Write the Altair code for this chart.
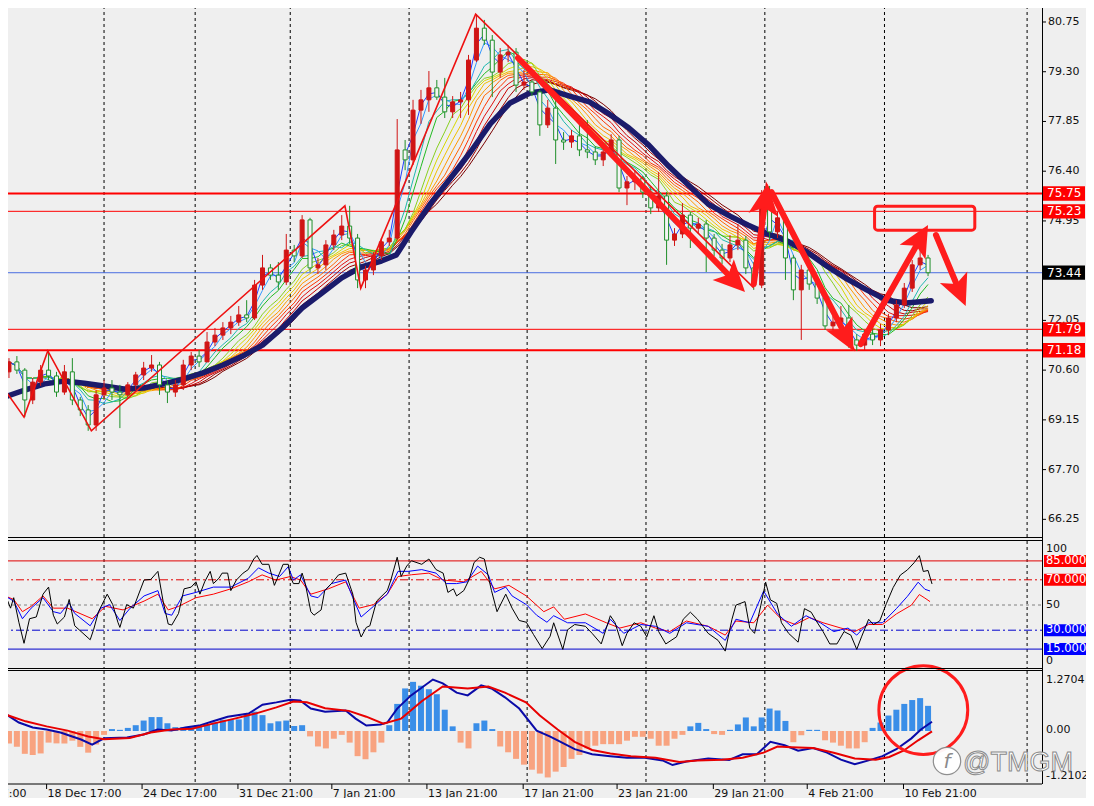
import math
import altair as alt
import pandas as pd

FONT = "DejaVu Sans"

# ---------------- values ----------------
# candles (one slot = 8 hours)
OPEN = [70.55,70.84,70.60,69.73,70.25,70.60,70.43,69.96,70.55,69.73,
        69.44,69.00,69.88,70.08,69.96,69.88,70.17,70.46,70.66,70.75,
        70.17,69.96,70.17,70.75,71.01,70.84,71.42,71.62,71.83,72.00,
        72.21,72.12,73.08,73.58,73.37,73.17,74.10,73.93,74.98,73.58,
        73.67,74.25,74.54,74.80,74.45,73.23,73.52,73.93,74.34,74.45,
        77.02,76.73,78.18,78.48,78.83,78.56,78.13,78.42,78.48,79.64,
        80.57,80.22,79.29,79.79,79.87,78.91,79.00,78.71,77.75,78.24,
        77.31,77.25,77.43,77.02,76.96,76.73,76.96,77.31,75.91,76.09,
        76.20,75.79,75.33,75.68,74.39,74.57,75.12,74.74,74.86,74.45,
        74.10,73.87,74.25,74.39,73.58,73.08,75.41,74.63,75.04,73.87,
        72.94,73.52,73.11,72.70,71.89,72.00,72.12,71.48,71.33,71.65,
        71.48,71.77,72.12,72.50,72.99,73.67,73.87]
HIGH = [70.95,71.01,70.66,70.37,70.75,71.16,70.55,70.75,70.95,69.82,
        69.58,70.02,70.31,70.31,70.17,70.25,70.55,70.84,71.04,70.84,
        70.31,70.31,70.90,71.13,71.19,71.71,71.83,72.00,72.18,72.47,
        72.64,73.23,73.96,73.69,73.75,74.57,74.25,75.12,75.04,73.87,
        74.39,74.69,75.12,75.39,74.57,73.64,74.04,74.45,74.69,77.92,
        77.31,78.48,78.77,79.32,79.06,79.12,78.59,78.71,79.79,80.98,
        80.81,80.37,79.99,80.08,79.99,79.35,79.06,78.77,78.48,78.53,
        77.54,77.60,77.95,77.89,77.13,77.08,77.48,77.43,76.26,76.43,
        76.26,75.97,76.38,75.79,74.74,75.47,75.21,75.04,74.98,74.57,
        74.28,74.54,74.86,74.51,73.75,75.85,75.97,75.21,75.15,73.96,
        73.67,73.75,73.29,72.82,72.18,72.47,72.50,71.65,71.77,71.95,
        71.95,72.24,72.64,73.14,73.81,74.16,73.96]
LOW = [70.37,70.49,69.23,69.61,70.14,70.31,69.82,69.88,69.58,69.26,
       68.83,68.83,69.73,69.73,68.91,69.79,70.02,70.31,70.55,69.88,
       69.64,69.82,70.02,70.60,70.69,70.84,71.30,71.48,71.65,71.89,
       72.00,72.06,72.94,73.23,72.94,73.08,73.75,73.87,73.46,73.40,
       73.52,74.10,74.39,74.28,72.99,72.99,73.37,73.81,74.22,74.39,
       76.43,76.58,77.78,78.13,78.48,77.95,77.95,77.95,78.04,79.58,
       80.08,78.56,79.12,79.58,78.71,78.77,78.59,77.43,77.66,76.61,
       77.02,77.08,76.84,76.78,76.58,76.55,76.84,75.79,75.41,75.85,
       75.62,75.15,75.21,73.67,74.22,74.45,74.16,74.57,73.46,73.93,
       73.69,73.75,74.10,73.40,72.94,72.99,74.39,74.45,73.23,72.64,
       71.48,72.94,72.53,71.77,71.71,71.77,71.25,71.16,71.19,71.33,
       71.30,71.62,72.00,72.41,72.88,73.52,73.34]
CLOSE = [70.84,70.60,69.73,70.25,70.60,70.43,69.96,70.55,69.73,69.44,
         69.00,69.88,70.08,69.96,69.88,70.17,70.46,70.66,70.75,70.17,
         69.96,70.17,70.75,71.01,70.84,71.42,71.62,71.83,72.00,72.21,
         72.12,73.08,73.58,73.37,73.17,74.10,73.93,74.98,73.58,73.67,
         74.25,74.54,74.80,74.45,73.23,73.52,73.93,74.34,74.45,77.02,
         76.73,78.18,78.48,78.83,78.56,78.13,78.42,78.48,79.64,80.57,
         80.22,79.29,79.79,79.87,78.91,79.00,78.71,77.75,78.24,77.31,
         77.25,77.43,77.02,76.96,76.73,76.96,77.31,75.91,76.09,76.20,
         75.79,75.33,75.68,74.39,74.57,75.12,74.74,74.86,74.45,74.10,
         73.87,74.25,74.39,73.58,73.08,75.41,74.63,75.04,73.87,72.94,
         73.52,73.11,72.70,71.89,72.00,72.12,71.48,71.33,71.65,71.48,
         71.77,72.12,72.50,72.99,73.67,73.87,73.44]
BAR = list(range(len(CLOSE)))

# thick slow moving average (navy)
NAVY_B = [-0.5,2,4.5,7,9.5,12,14.5,17,19.5,22,24.5,27,29.5,32,34.5,37,39.5,42,44.5,47,
          48.9,50.75,53.25,55.75,58.25,60.75,63.25,65.75,68.25,70.75,73.25,75.75,78.25,
          80.75,83.25,85.75,88.25,90.75,93.25,95.75,98.25,100.75,103.25,105.75,108.25,
          110.75,113.25,116.4]
NAVY_P = [69.82,70.02,70.20,70.28,70.22,70.14,70.05,70.08,70.20,70.34,70.52,70.75,71.01,
          71.33,71.83,72.41,72.85,73.29,73.61,73.78,73.96,74.63,75.47,76.20,76.96,77.78,
          78.39,78.68,78.77,78.59,78.42,78.07,77.66,77.16,76.55,76.00,75.44,75.12,74.83,
          74.57,74.36,74.04,73.63,73.26,72.94,72.64,72.56,72.62]

# rainbow MA periods (in slots), slow -> fast
MA_WIN = [17,16,15,14,13,12,11,10,9,8,6,5,3,2]
MA_COL = ["#7a0000","#a00000","#c80000","#e01010","#ff3300","#ff6600","#ff9900",
          "#f0c000","#d8d800","#88d020","#22bb22","#20b8b0","#3399ff","#2040ff"]

# zigzag (thin red)
ZZ_B = [-0.5,1.9,4.9,10.4,42.4,44.4,58.9,93.9,95.6,106.75]
ZZ_P = [70.02,69.23,71.16,68.83,75.39,72.99,80.98,73.02,76.03,71.16]

# hand-drawn arrows: start -> tip
ARROW_B0 = [64.25,94.0,96.25,107.5,117.0]
ARROW_P0 = [79.70,73.11,75.79,71.36,74.54]
ARROW_B1 = [92.9,95.75,106.6,116.0,120.75]
ARROW_P1 = [72.88,76.03,71.16,74.83,72.47]

# target box
BOX_B = [109.25,121.9]
BOX_P = [75.38,74.68]

# horizontal levels
LEVELS_THICK = [75.75,71.18]
LEVELS_THIN = [75.23,71.79]
LAST_PRICE = [73.44]
LEVEL_LABELS = [75.75,75.23,71.79,71.18]
PRICE_TICKS = [80.75,79.30,77.85,76.40,74.95,73.50,72.05,70.60,69.15,67.70,66.25]

# time axis
GRID_B = [12,23.5,35.5,50.5,65.4,80.4,95.4,110.5,128.5]
XLAB_B = [-7.25,4.75,16.8,28.9,40.75,52.75,64.9,76.75,88.9,100.75,112.9]
XLAB_T = ["12 Dec 17:00","18 Dec 17:00","24 Dec 17:00","31 Dec 21:00","7 Jan 21:00",
          "13 Jan 21:00","17 Jan 21:00","23 Jan 21:00","29 Jan 21:00","4 Feb 21:00",
          "10 Feb 21:00"]

# oscillator panel (three lines)
OB_B = [-0.5,0.2,0.6,1.25,1.9,2.6,3.45,4.3,5.0,5.6,6.1,7.0,7.6,8.3,10.25,10.7,11.3,12.4,13.1,13.75,
        14.0,14.85,15.7,17.05,17.9,18.8,19.45,20.1,20.55,21.4,22.1,23.0,23.6,24.1,24.7,25.4,25.8,26.5,26.9,27.6,
        28.0,28.7,29.55,30.2,30.9,31.3,31.95,32.8,33.5,34.15,34.6,35.25,35.5,35.9,36.6,37.0,37.4,38.1,38.5,39.4,
        39.85,40.7,41.6,42.5,43.4,43.8,44.45,45.1,45.55,46.4,47.75,48.2,49.0,49.5,50.2,50.8,52.1,53.0,53.9,54.8,
        55.4,56.1,56.5,57.4,58.05,58.7,59.4,60.0,60.9,61.6,62.7,63.5,64.4,65.3,66.2,67.3,68.3,68.75,69.9,70.5,
        71.4,72.75,73.6,74.75,75.9,76.5,77.4,78.0,78.9,79.75,80.5,81.4,82.0,82.9,84.25,85.1,86.0,86.9,88.25,89.5,
        90.4,91.25,91.75,92.9,93.5,94.1,94.9,95.5,96.1,96.9,97.5,98.4,99.6,100.4,101.25,101.9,102.75,103.6,104.5,105.4,
        106.25,107.0,107.6,108.5,109.1,109.9,110.75,111.6,112.5,113.4,114.25,114.9,115.4,116.0,116.5]
OB_V = [58.6,47.5,55.8,36.3,19.6,39.1,40.5,58.6,64.2,41.9,34.9,40.5,54.4,33.5,22.4,30.8,44.7,58.6,50.3,36.3,
        32.2,50.3,47.5,69.8,70.3,76.7,53.1,34.9,34.1,43.3,62.8,64.2,68.4,58.6,68.4,76.7,67,71.2,75.3,75.3,
        61.4,69.8,75.3,78.1,86.5,89.3,82.3,82.3,65.6,75.3,82.3,82.3,72.6,67,67,75.3,67,44.7,41.9,46.1,
        61.4,67,73.9,75.3,58.6,36.3,24.6,32.2,33.5,53.1,61.4,69.8,87.9,72.6,80.9,85.1,82.3,86.5,78.1,75.3,
        60,62.8,57.2,61.4,69.8,83.7,87.9,86.5,61.4,44.7,58.6,47.5,37.7,36.3,26.6,15.4,25.2,35.9,14.8,30.3,
        34.5,33.1,27.5,19.1,41.5,35.9,17.7,27.5,35.9,33.1,24.7,41.5,28.9,19.1,24.7,38.7,44.3,38.7,27.5,21.9,
        13.4,38.7,49.9,52.7,31.7,27.5,49.9,68.1,54.1,51.3,35.9,27.5,20.5,47.1,44.3,37.3,28.9,19.1,19.1,28.9,
        26.1,14.8,24.7,38.7,34.5,37.3,51.3,63.9,73.7,77.9,83.6,89.2,76.6,77.4,66.7]
OU_B = [-0.5,0.6,1.7,2.8,4.3,5.6,6.5,7.6,8.3,10.25,11.6,12.7,14.0,15.3,17.05,18.8,19.7,20.55,21.9,23.6,
        25.8,28.0,30.2,31.5,32.8,34.15,35.25,35.9,36.8,38.1,39.0,40.7,42.5,43.4,44.45,46.0,47.75,49.1,50.4,52.1,
        53.9,55.2,56.5,57.8,59.15,60.5,61.3,62.7,63.5,65.3,66.6,67.9,68.75,70.5,72.75,75.0,75.9,77.6,79.75,81.6,
        83.4,85.5,88.25,90.4,91.75,93.5,95.25,97.0,98.75,100.6,102.4,104.1,105.9,107.0,108.5,110.25,112.0,113.4,
        114.75,115.6,116.25]
OU_V = [57.2,53.1,39.1,47.5,55.8,44.7,43.3,51.7,43.3,33.5,47.5,50.3,37.7,47.5,57.2,61.4,43.3,41.9,57.2,60,
        64.2,64.2,71.2,79.5,75.3,72.6,80.4,69.8,73.9,57.2,55.8,67,69.8,55.8,40.5,48.9,58.6,76.7,76.7,78.1,
        75.3,67,67,68.4,80.9,73.9,60,64.2,57.2,50.3,41.9,36.3,41.5,35.9,35.9,27.5,38.7,27.5,34.5,33.1,
        27.5,35.9,33.1,21.9,38.7,35.9,61.1,42.9,33.1,41.5,35.9,28.9,31.7,26.1,35.9,35.9,47.1,56.9,68.1,62.5,
        61.1]
OR_B = [-0.5,0.6,1.7,2.8,4.3,5.6,7.4,10.5,12.2,14.4,17.05,18.8,20.1,21.4,23.6,25.8,28.0,30.2,31.95,33.7,
        35.5,36.8,38.1,40.3,42.5,44.2,46.0,47.75,49.1,50.8,53.0,54.8,57.4,59.6,61.3,63.1,65.3,67.5,68.75,70.1,
        72.75,75.4,77.1,79.75,81.6,83.4,85.5,88.25,90.4,91.75,94.0,95.75,97.5,99.25,101.0,102.75,105.0,106.75,
        108.5,110.25,112.0,113.9,114.9,115.6,116.25]
OR_V = [57.2,54.4,44.7,48.9,57.2,47.5,47.5,39.1,48.9,46.1,53.1,58.6,46.1,48.9,55.8,58.6,62.8,68.4,73.9,69.8,
        72.6,69.8,58.6,62.8,68.4,47.5,50.3,58.6,72.6,74,75.3,69.8,68.4,76.7,62.8,65.6,57.2,44.7,48.5,38.7,
        42.9,35.9,31.7,35.9,31.7,28.9,37.3,33.1,26.1,37.3,35.9,49.9,38.7,34.5,40.1,35.9,31.7,28.9,34.5,34.5,
        42.9,49.9,58.3,55.5,52.7]

# MACD panel
HIST = [-0.32,-0.41,-0.59,-0.62,-0.58,-0.30,-0.32,-0.32,-0.25,-0.41,
        -0.56,-0.35,-0.10,0.05,0.03,0.08,0.15,0.27,0.36,0.36,
        0.20,0.10,0.10,0.13,0.15,0.18,0.22,0.29,0.29,0.30,
        0.45,0.50,0.41,0.20,0.25,0.27,0.13,0.15,-0.14,-0.40,
        -0.45,-0.20,-0.10,-0.30,-0.65,-0.73,-0.55,-0.30,0.15,0.70,
        1.10,1.27,1.17,1.08,0.95,0.55,0.12,-0.30,-0.45,0.20,
        0.27,0.05,-0.40,-0.55,-0.72,-0.87,-1.00,-1.10,-1.20,-1.05,
        -0.93,-0.72,-0.62,-0.45,-0.38,-0.34,-0.34,-0.34,-0.25,-0.15,
        -0.15,-0.20,-0.38,-0.38,-0.20,-0.10,0.12,0.21,0.05,-0.08,
        -0.10,0.03,0.17,0.35,0.12,0.35,0.58,0.53,0.26,-0.29,
        -0.11,0.03,0.03,-0.24,-0.30,-0.38,-0.45,-0.45,-0.29,0.08,
        0.22,0.40,0.55,0.70,0.80,0.85,0.65]
MB_B = [-0.5,1.25,3,4.75,6.5,9.1,10.5,12,14.9,17,18.75,20.5,22.25,24,25.75,27.6,30.25,32,33.75,35.5,
        36.75,38.1,39.9,42.5,43.75,45.1,46.9,47.75,49,50.75,53.5,54.75,56.5,57.9,59.6,60.9,62.6,64.4,66.6,68.25,
        69.25,71.4,73.6,75.9,78,80.25,82.5,83.75,85.5,88.25,90.9,92.6,94.4,96.1,97.9,99.6,101.5,103.25,105,106.75,
        108.5,110.25,112,113.9,115.1,116.5]
MB_V = [0.45,0.22,0.09,0.04,-0.04,-0.22,-0.35,-0.19,-0.17,-0.09,0.04,0.01,0.09,0.14,0.25,0.37,0.45,0.68,0.74,0.81,
        0.79,0.58,0.50,0.53,0.32,0.14,0.17,0.22,0.58,0.92,1.33,1.23,0.99,0.92,1.18,1.10,0.87,0.58,0.01,-0.14,
        -0.24,-0.47,-0.60,-0.65,-0.69,-0.69,-0.76,-0.88,-0.79,-0.71,-0.75,-0.60,-0.60,-0.28,-0.37,-0.51,-0.44,-0.56,-0.74,-0.86,
        -0.76,-0.65,-0.47,-0.19,0.04,0.24]
MR_B = [-0.5,2.1,4.75,7.4,10,12,15.25,17.9,20.5,23.1,25.75,28.5,31.1,33.75,35.9,37.6,39.9,42.9,45.1,47.25,
        49.5,52.1,54.75,57.9,60.5,62.6,65.25,67,69.25,71.4,73.6,75.9,78.5,81.6,84.6,86.9,90,92.6,95.25,97,
        98.75,101.5,104.1,106.75,109.4,111.1,112.9,114.75,116.5]
MR_V = [0.43,0.25,0.12,0.01,-0.14,-0.21,-0.18,-0.04,0.04,0.06,0.19,0.32,0.45,0.61,0.76,0.74,0.59,0.52,0.37,0.19,
        0.32,0.77,1.15,1.10,1.15,0.99,0.74,0.40,0.04,-0.28,-0.49,-0.58,-0.65,-0.69,-0.80,-0.76,-0.74,-0.69,-0.56,-0.40,
        -0.42,-0.44,-0.56,-0.71,-0.74,-0.67,-0.51,-0.24,-0.01]
CIRCLE_B = [115.4]
CIRCLE_V = [0.54]

OSC_RED_BOX = [85, 70]
OSC_BLUE_BOX = [30, 15]
MACD_LAB_V = [1.2704, 0.0, -1.2102]
MACD_LAB_T = ["1.2704", "0.00", "-1.2102"]

# ---------------- layout ----------------
W = 1042
XMIN, XMAX = -0.5, 129.75
PMIN, PMAX = 65.735, 81.391
MAIN_TOP, MAIN_BOT = 0, 537
OSC_TOP, OSC_BOT = 542, 668
MACD_TOP, MACD_BOT = 671, 784
MMIN, MMAX = -1.3695, 1.5504

RED = "#ff0000"
ARED = "#ff1c1c"
CUP = "#d01515"
CDN = "#1f8f2a"
NAVY = "#1b1b6b"

XS = alt.Scale(domain=[XMIN, XMAX], range=[0, W], nice=False, zero=False)
PS = alt.Scale(domain=[PMIN, PMAX], range=[MAIN_BOT, MAIN_TOP], nice=False, zero=False)
OS = alt.Scale(domain=[0, 100], range=[OSC_BOT, OSC_TOP], nice=False, zero=False)
MS = alt.Scale(domain=[MMIN, MMAX], range=[MACD_BOT, MACD_TOP], nice=False, zero=False)


def X(f):
    return alt.X(f, type="quantitative", scale=XS, axis=None)


def YP(f):
    return alt.Y(f, type="quantitative", scale=PS, axis=None)


def YO(f):
    return alt.Y(f, type="quantitative", scale=OS, axis=None)


def YM(f):
    return alt.Y(f, type="quantitative", scale=MS, axis=None)


ONE = pd.DataFrame({"_": [0]})
layers = []

# grid (dotted period separators)
gdf = pd.DataFrame({"b": GRID_B})
for top, bot in [(MAIN_TOP, MAIN_BOT), (OSC_TOP - 1, OSC_BOT), (MACD_TOP, MACD_BOT)]:
    layers.append(alt.Chart(gdf).mark_rule(color="black", strokeWidth=1, strokeDash=[3, 3]).encode(
        x=X("b"), y=alt.value(top), y2=alt.value(bot)))

# horizontal price levels
layers.append(alt.Chart(pd.DataFrame({"p": LEVELS_THIN})).mark_rule(color=RED, strokeWidth=1).encode(
    y=YP("p"), x=alt.value(0), x2=alt.value(W)))
layers.append(alt.Chart(pd.DataFrame({"p": LEVELS_THICK})).mark_rule(color=RED, strokeWidth=2).encode(
    y=YP("p"), x=alt.value(0), x2=alt.value(W)))
layers.append(alt.Chart(pd.DataFrame({"p": LAST_PRICE})).mark_rule(color="#4a6ee0", strokeWidth=1).encode(
    y=YP("p"), x=alt.value(0), x2=alt.value(W)))

# candles data
cdf = pd.DataFrame({"b": BAR, "o": OPEN, "h": HIGH, "l": LOW, "c": CLOSE})

# rainbow moving averages
names = ["m%d" % w for w in MA_WIN]
ma = alt.Chart(cdf)
for w in MA_WIN:
    ma = ma.transform_window(frame=[-(w - 1), 0], sort=[alt.SortField("b")], **{"m%d" % w: "mean(c)"})
ma = ma.transform_fold(names, as_=["k", "v"]).mark_line(strokeWidth=1).encode(
    x=X("b"), y=YP("v"),
    color=alt.Color("k:N", scale=alt.Scale(domain=names, range=MA_COL), legend=None),
    order="b:Q")
layers.append(ma)

# navy slow MA
layers.append(alt.Chart(pd.DataFrame({"b": NAVY_B, "p": NAVY_P})).mark_line(
    color=NAVY, strokeWidth=5.5, strokeCap="round", strokeJoin="round").encode(x=X("b"), y=YP("p"), order="b:Q"))

# candles
cbase = alt.Chart(cdf).transform_calculate(dir="datum.c >= datum.o ? 'up' : 'down'")
layers.append(cbase.mark_rule(strokeWidth=1).encode(
    x=X("b"), y=YP("l"), y2="h",
    color=alt.Color("dir:N", scale=alt.Scale(domain=["up", "down"], range=[CUP, CDN]), legend=None)))
layers.append(cbase.mark_bar(size=4, strokeWidth=1).encode(
    x=X("b"), y=YP("o"), y2="c",
    fill=alt.Fill("dir:N", scale=alt.Scale(domain=["up", "down"], range=[CUP, "#f4f4f4"]), legend=None),
    stroke=alt.Stroke("dir:N", scale=alt.Scale(domain=["up", "down"], range=[CUP, CDN]), legend=None)))

# zigzag
zdf = pd.DataFrame({"i": list(range(len(ZZ_B))), "b": ZZ_B, "p": ZZ_P})
layers.append(alt.Chart(zdf).mark_line(color="#ee1111", strokeWidth=1.6).encode(
    x=X("b"), y=YP("p"), order="i:Q"))

# arrows
PXB = W / (XMAX - XMIN)
PXP = (MAIN_BOT - MAIN_TOP) / (PMAX - PMIN)
rows = []
for b0, p0, b1, p1 in zip(ARROW_B0, ARROW_P0, ARROW_B1, ARROW_P1):
    dx = (b1 - b0) * PXB
    dy = -(p1 - p0) * PXP
    L = math.hypot(dx, dy)
    f = (L - 16) / L
    rows.append({"b0": b0, "p0": p0, "b1": b1, "p1": p1,
                 "bs": b0 + (b1 - b0) * f, "ps": p0 + (p1 - p0) * f,
                 "ang": math.degrees(math.atan2(dx, -dy)) % 360})
adf = pd.DataFrame(rows)
layers.append(alt.Chart(adf).mark_rule(color=ARED, strokeWidth=6, strokeCap="round").encode(
    x=X("b0"), y=YP("p0"), x2="bs", y2="ps"))
HEAD = "M0,0L0.62,1.3L0,1.0L-0.62,1.3Z"
layers.append(alt.Chart(adf).mark_point(shape=HEAD, filled=True, color=ARED, size=2300, opacity=1).encode(
    x=X("b1"), y=YP("p1"), angle=alt.Angle("ang:Q", scale=None)))

# target box
bdf = pd.DataFrame({"b0": [BOX_B[0]], "b1": [BOX_B[1]], "p0": [BOX_P[0]], "p1": [BOX_P[1]]})
layers.append(alt.Chart(bdf).mark_rect(stroke=ARED, strokeWidth=3, fillOpacity=0, cornerRadius=3).encode(
    x=X("b0"), x2="b1", y=YP("p0"), y2="p1"))

# ---- oscillator panel ----
def olevel(v, color, dash):
    kw = dict(color=color, strokeWidth=1)
    if dash:
        kw["strokeDash"] = dash
    return alt.Chart(pd.DataFrame({"v": [v]})).mark_rule(**kw).encode(
        y=YO("v"), x=alt.value(0), x2=alt.value(W))


layers.append(olevel(OSC_RED_BOX[0], "#e00000", None))
layers.append(olevel(OSC_RED_BOX[1], "#e00000", [8, 3, 2, 3]))
layers.append(olevel(50, "#808080", [3, 3]))
layers.append(olevel(OSC_BLUE_BOX[0], "#0000cc", [8, 3, 2, 3]))
layers.append(olevel(OSC_BLUE_BOX[1], "#0000cc", None))
for bb, vv, col in [(OR_B, OR_V, "#ff0000"), (OU_B, OU_V, "#0000ff"), (OB_B, OB_V, "#000000")]:
    layers.append(alt.Chart(pd.DataFrame({"b": bb, "v": vv})).mark_line(color=col, strokeWidth=1).encode(
        x=X("b"), y=YO("v"), order="b:Q"))

# ---- MACD panel ----
hdf = pd.DataFrame({"b": BAR, "h": HIST})
layers.append(alt.Chart(hdf).transform_calculate(sg="datum.h >= 0 ? 'pos' : 'neg'").mark_bar(size=6).encode(
    x=X("b"), y=YM("h"), y2=alt.datum(0),
    color=alt.Color("sg:N", scale=alt.Scale(domain=["pos", "neg"], range=["#3a8ee8", "#f8a380"]), legend=None)))
layers.append(alt.Chart(pd.DataFrame({"b": MB_B, "v": MB_V})).mark_line(color="#0a0aa8", strokeWidth=2).encode(
    x=X("b"), y=YM("v"), order="b:Q"))
layers.append(alt.Chart(pd.DataFrame({"b": MR_B, "v": MR_V})).mark_line(color="#e80000", strokeWidth=2).encode(
    x=X("b"), y=YM("v"), order="b:Q"))
layers.append(alt.Chart(pd.DataFrame({"b": CIRCLE_B, "v": CIRCLE_V})).mark_point(
    shape="circle", size=7900, filled=False, stroke=ARED, strokeWidth=3, opacity=1).encode(x=X("b"), y=YM("v")))

# ---- frames ----
for yy in [MAIN_BOT + 0.5, MAIN_BOT + 3.5, OSC_BOT + 0.5, MACD_TOP - 0.5, MACD_BOT]:
    layers.append(alt.Chart(ONE).mark_rule(color="black", strokeWidth=1).encode(
        y=alt.value(yy), x=alt.value(0), x2=alt.value(W)))
layers.append(alt.Chart(ONE).mark_rule(color="black", strokeWidth=1).encode(
    x=alt.value(W + 0.5), y=alt.value(0), y2=alt.value(MACD_BOT)))

# ---- right-hand labels: price ----
tdf = pd.DataFrame({"p": PRICE_TICKS})
layers.append(alt.Chart(tdf).mark_rule(color="black").encode(y=YP("p"), x=alt.value(W), x2=alt.value(W + 4)))
layers.append(alt.Chart(tdf).mark_text(align="left", baseline="middle", font=FONT, fontSize=11, color="#111111").encode(
    y=YP("p"), x=alt.value(W + 6), text=alt.Text("p:Q", format=".2f")))
RECT_M = "M-1,-0.34L1,-0.34L1,0.34L-1,0.34Z"
ldf = pd.DataFrame({"p": LEVEL_LABELS})
layers.append(alt.Chart(ldf).mark_point(shape=RECT_M, filled=True, color=RED, size=1764, opacity=1).encode(
    y=YP("p"), x=alt.value(W + 22)))
layers.append(alt.Chart(ldf).mark_text(align="left", baseline="middle", font=FONT, fontSize=12, color="white").encode(
    y=YP("p"), x=alt.value(W + 5), text=alt.Text("p:Q", format=".2f")))
lpdf = pd.DataFrame({"p": LAST_PRICE})
layers.append(alt.Chart(lpdf).mark_point(shape=RECT_M, filled=True, color="black", size=1764, opacity=1).encode(
    y=YP("p"), x=alt.value(W + 22)))
layers.append(alt.Chart(lpdf).mark_text(align="left", baseline="middle", font=FONT, fontSize=12, color="white").encode(
    y=YP("p"), x=alt.value(W + 5), text=alt.Text("p:Q", format=".2f")))

# ---- right-hand labels: oscillator ----
RECT_O = "M-1,-0.23L1,-0.23L1,0.23L-1,0.23Z"
for vals, col in [(OSC_RED_BOX, RED), (OSC_BLUE_BOX, "#0000ff")]:
    odf = pd.DataFrame({"v": vals})
    layers.append(alt.Chart(odf).mark_point(shape=RECT_O, filled=True, color=col, size=2704, opacity=1).encode(
        y=YO("v"), x=alt.value(W + 28)))
    layers.append(alt.Chart(odf).mark_text(align="left", baseline="middle", font=FONT, fontSize=11.5, color="white").encode(
        y=YO("v"), x=alt.value(W + 4), text=alt.Text("v:Q", format=".4f")))
for v, d in [(100, 7), (50, 0), (0, -7)]:
    layers.append(alt.Chart(pd.DataFrame({"v": [v]})).mark_text(
        align="left", baseline="middle", font=FONT, fontSize=11, color="#111111", dy=d).encode(
        y=YO("v"), x=alt.value(W + 4), text=alt.Text("v:Q", format="d")))

# ---- right-hand labels: MACD ----
layers.append(alt.Chart(pd.DataFrame({"v": MACD_LAB_V, "t": MACD_LAB_T})).mark_text(
    align="left", baseline="middle", font=FONT, fontSize=11, color="#111111", dy=-1.5).encode(
    y=YM("v"), x=alt.value(W + 4), text="t:N"))

# ---- time axis ----
xdf = pd.DataFrame({"b": XLAB_B, "t": XLAB_T})
layers.append(alt.Chart(xdf).mark_rule(color="black").encode(x=X("b"), y=alt.value(MACD_BOT), y2=alt.value(MACD_BOT + 5)))
layers.append(alt.Chart(xdf).mark_text(align="left", baseline="middle", font=FONT, fontSize=11, color="#111111", dx=1).encode(
    x=X("b"), y=alt.value(MACD_BOT + 10), text="t:N"))

# ---- watermark ----
layers.append(alt.Chart(ONE).mark_point(shape="circle", size=750, filled=True, fill="white", stroke="#8a8a8a",
                                        strokeWidth=1.2, opacity=0.95).encode(x=alt.value(947), y=alt.value(761)))
layers.append(alt.Chart(ONE).mark_text(text="f", font=FONT, fontSize=20, fontStyle="italic", color="#8a8a8a").encode(
    x=alt.value(947), y=alt.value(762)))
layers.append(alt.Chart(ONE).mark_text(text="@TMGM", font="Liberation Sans", fontSize=27, fill="white",
                                       stroke="#8a8a8a", strokeWidth=1, align="left", baseline="middle").encode(
    x=alt.value(963), y=alt.value(763)))

chart = alt.layer(*layers).resolve_scale(
    y="independent", color="independent", fill="independent", stroke="independent"
).properties(
    width=W, height=MACD_BOT,
    autosize=alt.AutoSizeParams(type="none"),
    padding={"left": -8, "top": -8, "right": 44, "bottom": 14},
    background="#efefef",
).configure_view(strokeWidth=0)

chart.save("out.html", embed_options={"renderer": "svg", "actions": False})
